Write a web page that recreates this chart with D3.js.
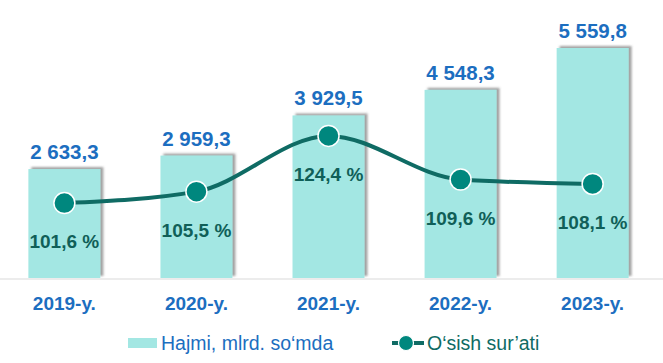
<!DOCTYPE html>
<html>
<head>
<meta charset="utf-8">
<script src="https://cdn.jsdelivr.net/npm/d3@7"></script>
<style>
  html, body { margin: 0; padding: 0; background: #fff; }
  svg { display: block; font-family: "Liberation Sans", Arial, sans-serif; }
</style>
</head>
<body>
<svg id="chart" width="663" height="363"></svg>
<script>
const years = ["2019-y.", "2020-y.", "2021-y.", "2022-y.", "2023-y."];
const volume = [2633.3, 2959.3, 3929.5, 4548.3, 5559.8];
const growth = [101.6, 105.5, 124.4, 109.6, 108.1];
const legendLabels = ["Hajmi, mlrd. so‘mda", "O‘sish sur’ati"];

const W = 663, H = 363;
const baseY = 278, topY = 46;

const blue = "#1c6ec0";
const barColor = "#a3e7e3";
const lineColor = "#0f6b64";
const dotColor = "#00877e";
const pctColor = "#105f58";

// formatting like "2 633,3"
function fmtNum(v) {
  return d3.format(",.1f")(v).replace(/,/g, " ").replace(".", ",");
}

const svg = d3.select("#chart");

const defs = svg.append("defs");
const f = defs.append("filter").attr("id", "shadow")
  .attr("x", "-10%").attr("y", "-10%").attr("width", "130%").attr("height", "130%");
f.append("feDropShadow")
  .attr("dx", 3).attr("dy", -2).attr("stdDeviation", 1.3)
  .attr("flood-color", "#555").attr("flood-opacity", 0.55);

const x = d3.scaleBand().domain(years).range([-2, 659]).paddingInner(0.455).paddingOuter(0.23);
const y = d3.scaleLinear().domain([0, 5559.8]).range([baseY, 48]);
const y2 = d3.scaleLinear().domain([76.2, 154.9]).range([baseY, topY]);

// baseline
svg.append("line")
  .attr("x1", 0).attr("x2", W)
  .attr("y1", baseY + 1).attr("y2", baseY + 1)
  .attr("stroke", "#d9d9d9").attr("stroke-width", 1);

// bars
svg.append("g").selectAll("rect")
  .data(volume)
  .join("rect")
  .attr("x", (d, i) => x(years[i]))
  .attr("y", d => y(d))
  .attr("width", x.bandwidth())
  .attr("height", d => baseY - y(d))
  .attr("fill", barColor)
  .attr("filter", "url(#shadow)");

// value labels
svg.append("g").selectAll("text")
  .data(volume)
  .join("text")
  .attr("x", (d, i) => x(years[i]) + x.bandwidth() / 2)
  .attr("y", d => y(d) - 10)
  .attr("text-anchor", "middle")
  .attr("font-size", 20.5)
  .attr("font-weight", "bold")
  .attr("fill", blue)
  .text(d => fmtNum(d));

// category labels
svg.append("g").selectAll("text")
  .data(years)
  .join("text")
  .attr("x", d => x(d) + x.bandwidth() / 2)
  .attr("y", 310)
  .attr("text-anchor", "middle")
  .attr("font-size", 19)
  .attr("font-weight", "bold")
  .attr("fill", blue)
  .text(d => d);

// growth line
const cx = i => x(years[i]) + x.bandwidth() / 2;
const line = d3.line()
  .x((d, i) => cx(i))
  .y(d => y2(d))
  .curve(d3.curveMonotoneX);

svg.append("path")
  .datum(growth)
  .attr("d", line)
  .attr("fill", "none")
  .attr("stroke", lineColor)
  .attr("stroke-width", 4);

svg.append("g").selectAll("circle")
  .data(growth)
  .join("circle")
  .attr("cx", (d, i) => cx(i))
  .attr("cy", d => y2(d))
  .attr("r", 10.5)
  .attr("fill", dotColor)
  .attr("stroke", "#fff")
  .attr("stroke-width", 1.5);

svg.append("g").selectAll("text")
  .data(growth)
  .join("text")
  .attr("x", (d, i) => cx(i))
  .attr("y", d => y2(d) + 45)
  .attr("text-anchor", "middle")
  .attr("font-size", 19)
  .attr("font-weight", "bold")
  .attr("fill", pctColor)
  .text(d => d.toFixed(1).replace(".", ",") + " %");

// legend
const lg = svg.append("g");
lg.append("rect")
  .attr("x", 128).attr("y", 338).attr("width", 29).attr("height", 10)
  .attr("fill", barColor);
lg.append("text")
  .attr("x", 161).attr("y", 350)
  .attr("font-size", 19.5).attr("fill", blue)
  .text(legendLabels[0]);

lg.append("line")
  .attr("x1", 392).attr("x2", 424).attr("y1", 343).attr("y2", 343)
  .attr("stroke", lineColor).attr("stroke-width", 4);
lg.append("circle")
  .attr("cx", 406).attr("cy", 343).attr("r", 7.5)
  .attr("fill", dotColor).attr("stroke", "#fff").attr("stroke-width", 1.2);
lg.append("text")
  .attr("x", 427).attr("y", 350)
  .attr("font-size", 19.5).attr("fill", lineColor)
  .text(legendLabels[1]);
</script>
</body>
</html>
